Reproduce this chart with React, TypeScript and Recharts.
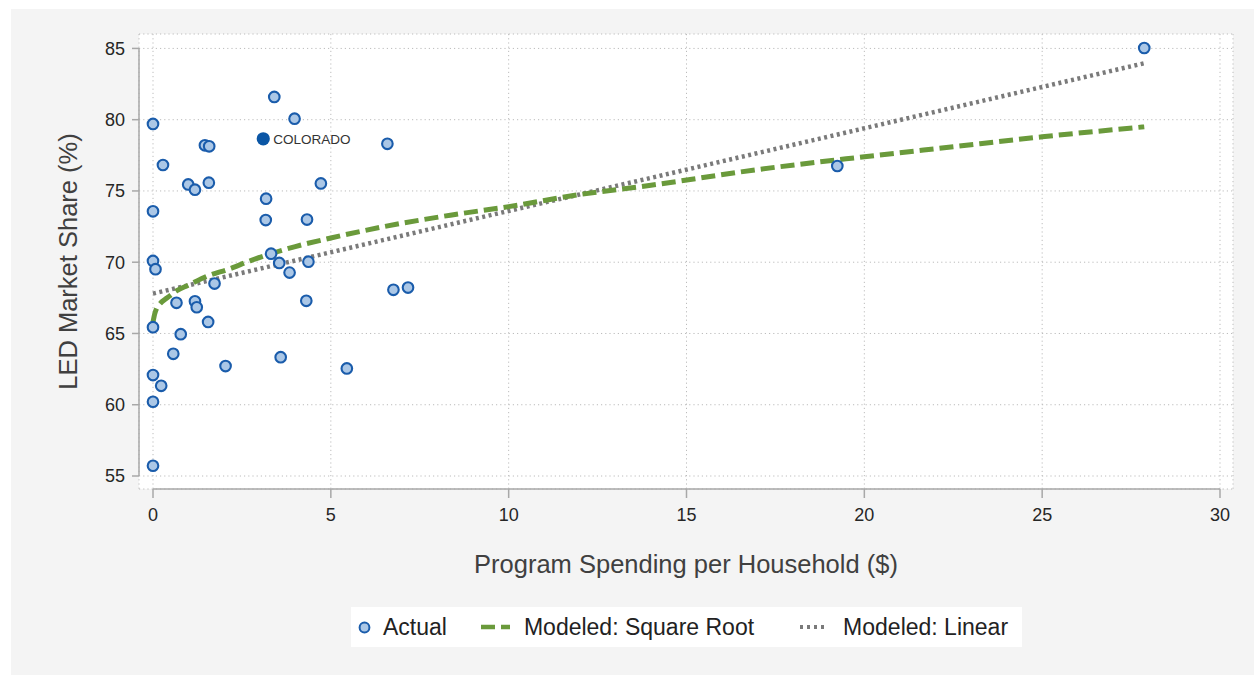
import React from "react";
import { CartesianGrid, ComposedChart, Legend, Line, Scatter, XAxis, YAxis } from "recharts";

// LED market share vs program spending, one point per state
const xTicks = [0, 5, 10, 15, 20, 25, 30];
const yTicks = [55, 60, 65, 70, 75, 80, 85];

const actual = [
  { x: 0, y: 79.7 },
  { x: 3.41, y: 81.6 },
  { x: 3.98, y: 80.07 },
  { x: 6.59, y: 78.31 },
  { x: 1.46, y: 78.2 },
  { x: 1.58, y: 78.13 },
  { x: 0.28, y: 76.82 },
  { x: 0.99, y: 75.46 },
  { x: 1.18, y: 75.09 },
  { x: 1.57, y: 75.58 },
  { x: 4.72, y: 75.53 },
  { x: 0, y: 73.57 },
  { x: 3.18, y: 74.46 },
  { x: 3.17, y: 72.96 },
  { x: 4.33, y: 72.99 },
  { x: 0, y: 70.09 },
  { x: 0.07, y: 69.51 },
  { x: 3.32, y: 70.6 },
  { x: 3.55, y: 69.95 },
  { x: 3.84, y: 69.27 },
  { x: 4.37, y: 70.04 },
  { x: 1.73, y: 68.5 },
  { x: 0.66, y: 67.15 },
  { x: 1.18, y: 67.26 },
  { x: 1.23, y: 66.84 },
  { x: 4.31, y: 67.29 },
  { x: 6.76, y: 68.06 },
  { x: 7.17, y: 68.22 },
  { x: 0, y: 65.44 },
  { x: 1.55, y: 65.81 },
  { x: 0.78, y: 64.95 },
  { x: 0.57, y: 63.57 },
  { x: 3.59, y: 63.34 },
  { x: 2.04, y: 62.71 },
  { x: 5.45, y: 62.55 },
  { x: 0, y: 62.08 },
  { x: 0.23, y: 61.33 },
  { x: 0, y: 60.21 },
  { x: 0, y: 55.72 },
  { x: 19.24, y: 76.75 },
  { x: 27.87, y: 85.03 },
];

const colorado = [{ x: 3.1, y: 78.66, name: "COLORADO" }];

const sqrtFit = [
  { x: 0, y: 65.8 },
  { x: 0.05, y: 66.4 },
  { x: 0.1, y: 66.75 },
  { x: 0.2, y: 67.1 },
  { x: 0.4, y: 67.5 },
  { x: 0.67, y: 68.0 },
  { x: 1, y: 68.4 },
  { x: 1.5, y: 69.0 },
  { x: 2.17, y: 69.55 },
  { x: 2.73, y: 70.1 },
  { x: 3.32, y: 70.6 },
  { x: 4, y: 71.1 },
  { x: 5, y: 71.7 },
  { x: 6.5, y: 72.5 },
  { x: 8.36, y: 73.3 },
  { x: 10, y: 73.9 },
  { x: 12, y: 74.75 },
  { x: 14, y: 75.4 },
  { x: 17, y: 76.5 },
  { x: 20, y: 77.4 },
  { x: 22.5, y: 78.1 },
  { x: 25, y: 78.8 },
  { x: 27.87, y: 79.5 },
];

const linearFit = [
  { x: 0, y: 67.8 },
  { x: 27.87, y: 83.96 },
];

const legendNames = ["Actual", "Modeled: Square Root", "Modeled: Linear"];

const DOT_FILL = "#abc7e6";
const DOT_EDGE = "#1a5cab";
const GREEN = "#6a9a3b";
const GRAY = "#7a7a7a";
const AXIS = "#a8a8a8";

const dot = (p: any) => (
  <circle cx={p.cx} cy={p.cy} r={5.3} fill={DOT_FILL} stroke={DOT_EDGE} strokeWidth={2.1} />
);

const labelledDot = (p: any) => (
  <g>
    <circle cx={p.cx} cy={p.cy} r={6.6} fill="#0b56a5" />
    <text x={p.cx + 10} y={p.cy} dy="0.36em" fontSize={13.5} fill="#333">
      {p.payload.name}
    </text>
  </g>
);

function LegendBox() {
  return (
    <div
      style={{
        display: "flex",
        alignItems: "center",
        height: "100%",
        background: "#fff",
        fontSize: 23,
        color: "#222",
        paddingLeft: 7,
        boxSizing: "border-box",
      }}
    >
      <svg width={13} height={13}>
        <circle cx={6.5} cy={6.5} r={4.9} fill={DOT_FILL} stroke={DOT_EDGE} strokeWidth={2} />
      </svg>
      <span style={{ marginLeft: 12 }}>{legendNames[0]}</span>
      <svg width={29} height={6} style={{ marginLeft: 34 }}>
        <line x1={0} y1={3} x2={29} y2={3} stroke={GREEN} strokeWidth={4.5} strokeDasharray="14 6" />
      </svg>
      <span style={{ marginLeft: 14 }}>{legendNames[1]}</span>
      <svg width={28} height={6} style={{ marginLeft: 46 }}>
        <line x1={0} y1={3} x2={28} y2={3} stroke={GRAY} strokeWidth={4} strokeDasharray="3 4" />
      </svg>
      <span style={{ marginLeft: 15 }}>{legendNames[2]}</span>
    </div>
  );
}

export default function App() {
  return (
    <div
      style={{
        position: "fixed",
        left: 0,
        top: 0,
        width: 1254,
        height: 675,
        background: "#fff",
        fontFamily: '"Liberation Sans", Arial, sans-serif',
      }}
    >
      <div style={{ position: "absolute", left: 11, top: 9, right: 0, bottom: 0, background: "#f4f4f4" }} />
      <div style={{ position: "absolute", left: 0, top: 0 }}>
        <ComposedChart width={1254} height={675} margin={{ top: 34, right: 21, bottom: 0, left: 0 }}>
          <CartesianGrid fill="#fff" stroke="#bcbcbc" strokeDasharray="1.2 3" />
          <XAxis
            type="number"
            dataKey="x"
            domain={[0, 30]}
            ticks={xTicks}
            padding={{ left: 14, right: 13 }}
            height={186}
            axisLine={{ stroke: AXIS, strokeWidth: 1.5, strokeDasharray: "0 14 1067 13" }}
            tickLine={{ stroke: AXIS, strokeWidth: 1.5 }}
            tickSize={9}
            tickMargin={10}
            tick={{ fill: "#262626", fontSize: 18 }}
            label={{
              value: "Program Spending per Household ($)",
              position: "insideTop",
              offset: 66,
              fill: "#404040",
              fontSize: 25.5,
            }}
          />
          <YAxis
            type="number"
            dataKey="y"
            domain={[55, 85]}
            ticks={yTicks}
            padding={{ top: 14, bottom: 13 }}
            width={139}
            axisLine={{ stroke: AXIS, strokeWidth: 1.5, strokeDasharray: "0 14 428 13" }}
            tickLine={{ stroke: AXIS, strokeWidth: 1.5 }}
            tickSize={7}
            tickMargin={7}
            tick={{ fill: "#262626", fontSize: 18 }}
            label={{
              value: "LED Market Share (%)",
              angle: -90,
              position: "insideLeft",
              offset: 68,
              fill: "#404040",
              fontSize: 25.5,
              style: { textAnchor: "middle" },
            }}
          />
          <Line
            data={linearFit}
            dataKey="y"
            type="linear"
            stroke={GRAY}
            strokeWidth={4.5}
            strokeDasharray="3 3.5"
            dot={false}
            activeDot={false}
            legendType="none"
            isAnimationActive={false}
          />
          <Line
            data={sqrtFit}
            dataKey="y"
            type="monotone"
            stroke={GREEN}
            strokeWidth={5}
            strokeDasharray="14 6"
            dot={false}
            activeDot={false}
            legendType="none"
            isAnimationActive={false}
          />
          <Scatter data={actual} shape={dot} isAnimationActive={false} />
          <Scatter data={colorado} shape={labelledDot} isAnimationActive={false} />
          <Legend
            layout="horizontal"
            verticalAlign="middle"
            align="center"
            wrapperStyle={{ left: 351, top: 607, width: 671, height: 40 }}
            content={() => <LegendBox />}
          />
        </ComposedChart>
      </div>
    </div>
  );
}
